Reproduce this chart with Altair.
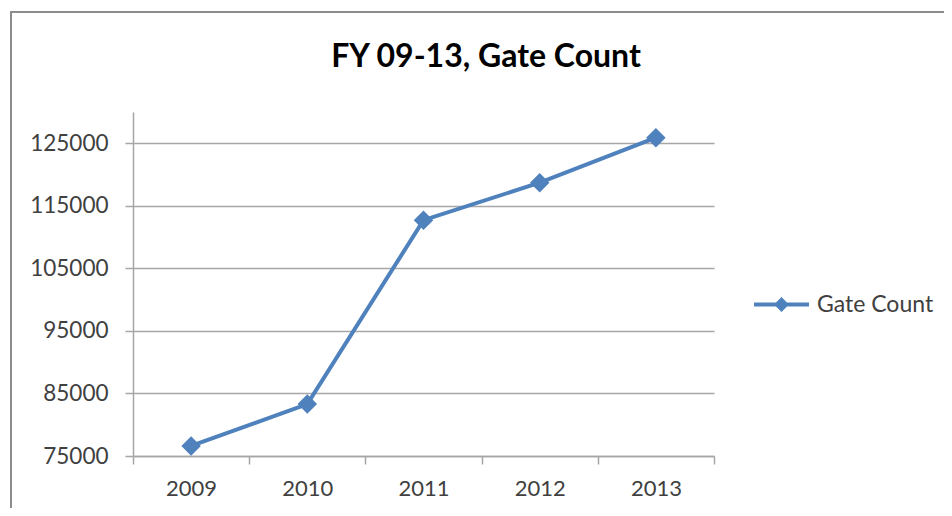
import altair as alt
import pandas as pd

years = ["2009", "2010", "2011", "2012", "2013"]
gate_count = [76600, 83300, 112700, 118700, 125900]
series = ["Gate Count"] * len(years)
y_ticks = [75000, 85000, 95000, 105000, 115000, 125000]
title_text = "FY 09-13, Gate Count"

df = pd.DataFrame({"year": years, "count": gate_count, "series": series})

BLUE = "#4F81BD"
GRID = "#a6a6a6"
TEXT = "#404040"
FONT = "Lato"

x_enc = alt.X(
    "year:O",
    title=None,
    scale=alt.Scale(type="band", paddingInner=0, paddingOuter=0),
    axis=alt.Axis(
        tickBand="extent",
        labelAngle=0,
        labelFont=FONT,
        labelFontSize=22,
        labelColor=TEXT,
        labelPadding=14,
        tickSize=8,
        tickColor=GRID,
        domainColor=GRID,
        tickWidth=1.5,
        domainWidth=1.5,
        grid=False,
    ),
)
y_enc = alt.Y(
    "count:Q",
    title=None,
    scale=alt.Scale(domain=[75000, 130000], nice=False, zero=False),
    axis=alt.Axis(
        values=y_ticks,
        format="d",
        labelFont=FONT,
        labelFontSize=22.5,
        labelColor=TEXT,
        labelPadding=17,
        tickSize=8,
        tickColor=GRID,
        domainColor=GRID,
        tickWidth=1.5,
        domainWidth=1.5,
        grid=True,
        gridColor=GRID,
        gridWidth=1.5,
    ),
)

base = alt.Chart(df)
one = base.transform_filter(alt.datum.year == "2009")

frame = one.mark_rect(
    fill=None, stroke="#8c8c8c", strokeWidth=2
).encode(
    x=alt.value(-122), x2=alt.value(1000), y=alt.value(-100), y2=alt.value(600)
)

title = one.mark_text(
    text=title_text,
    font=FONT,
    fontSize=32,
    fontWeight="bold",
    color="black",
    align="center",
    baseline="alphabetic",
).encode(x=alt.value(353), y=alt.value(-45))

line = base.mark_line(color=BLUE, strokeWidth=4).encode(x=x_enc, y=y_enc)

points = base.mark_point(
    shape="diamond", size=380, filled=True, opacity=1
).encode(
    x=x_enc,
    y=y_enc,
    color=alt.Color(
        "series:N",
        scale=alt.Scale(range=[BLUE]),
        legend=alt.Legend(
            title=None,
            orient="none",
            legendX=619,
            legendY=163,
            padding=0,
            symbolType="M-1,0L1,0M0,-0.17L0.17,0L0,0.17L-0.17,0Z",
            symbolSize=3025,
            symbolStrokeWidth=4,
            symbolStrokeColor=BLUE,
            symbolFillColor=BLUE,
            labelFont=FONT,
            labelFontSize=23,
            labelColor=TEXT,
            labelOffset=6,
        ),
    ),
)

chart = (
    alt.layer(frame, title, line, points)
    .properties(
        width=581,
        height=344,
        autosize=alt.AutoSizeParams(type="none"),
        padding={"left": 125, "top": 104, "right": 230, "bottom": 52},
        view=alt.ViewBackground(strokeWidth=0, strokeOpacity=0),
    )
    .configure_view(strokeWidth=0, strokeOpacity=0)
    .configure(background="white")
)

chart.save("out.html", embed_options={"renderer": "svg", "actions": False})
